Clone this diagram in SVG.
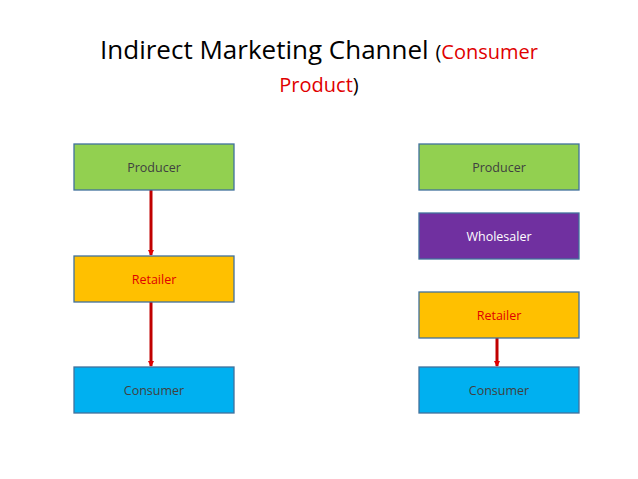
<svg xmlns="http://www.w3.org/2000/svg" width="638" height="479" viewBox="0 0 638 479">
<style>
.b{stroke:#41719c;stroke-width:1.3}
.t{font-family:"Open Sans","Liberation Sans",sans-serif;font-size:12.5px;text-anchor:middle}
.a{stroke:#c00000;stroke-width:3;fill:none}
</style>
<defs><marker id="m" markerWidth="6" markerHeight="6" refX="5" refY="3" orient="auto" markerUnits="userSpaceOnUse" viewBox="0 0 6 6"><path d="M0,0L6,3L0,6z" fill="#e00000"/></marker></defs>
<rect width="638" height="479" fill="#fff"/>
<text x="319" y="59" font-family="Open Sans,Liberation Sans,sans-serif" font-size="26" text-anchor="middle" fill="#000">Indirect Marketing Channel <tspan font-size="20">(</tspan><tspan font-size="20" fill="#e00000">Consumer</tspan></text>
<text x="319" y="92" font-family="Open Sans,Liberation Sans,sans-serif" font-size="20" text-anchor="middle"><tspan fill="#e00000">Product</tspan>)</text>
<g id="conn">
<line class="a" x1="151" y1="190" x2="151" y2="255" marker-end="url(#m)"/>
<line class="a" x1="151" y1="302" x2="151" y2="366" marker-end="url(#m)"/>
<line class="a" x1="497" y1="338" x2="497" y2="366" marker-end="url(#m)"/>
</g>
<g id="lp"><rect class="b" x="74" y="144" width="160" height="46" fill="#92d050"/><text class="t" x="154" y="172" fill="#404040">Producer</text></g>
<g id="lr"><rect class="b" x="74" y="256" width="160" height="46" fill="#ffc000"/><text class="t" x="154" y="284" fill="#e00000">Retailer</text></g>
<g id="lc"><rect class="b" x="74" y="367" width="160" height="46" fill="#00b0f0"/><text class="t" x="154" y="395" fill="#404040">Consumer</text></g>
<g id="rp"><rect class="b" x="419" y="144" width="160" height="46" fill="#92d050"/><text class="t" x="499" y="172" fill="#404040">Producer</text></g>
<g id="rw"><rect class="b" x="419" y="213" width="160" height="46" fill="#7030a0"/><text class="t" x="499" y="241" fill="#fff">Wholesaler</text></g>
<g id="rr"><rect class="b" x="419" y="292" width="160" height="46" fill="#ffc000"/><text class="t" x="499" y="320" fill="#e00000">Retailer</text></g>
<g id="rc"><rect class="b" x="419" y="367" width="160" height="46" fill="#00b0f0"/><text class="t" x="499" y="395" fill="#404040">Consumer</text></g>
</svg>
